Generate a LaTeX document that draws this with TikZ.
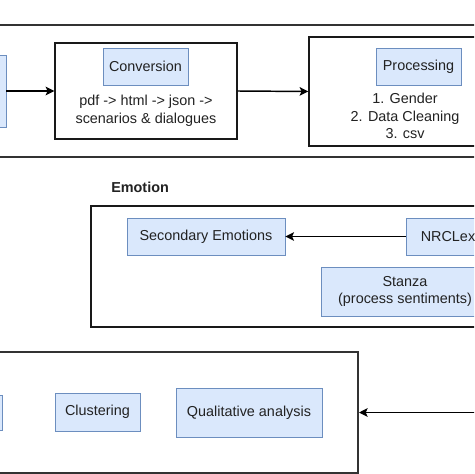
\documentclass[tikz,border=0pt]{standalone}
\usepackage{fontspec}
\setmainfont{Liberation Sans}
\usetikzlibrary{arrows.meta}
\definecolor{bfill}{HTML}{DAE8FC}
\definecolor{bline}{HTML}{6C8EBF}
\definecolor{dline}{HTML}{333333}
\definecolor{txt}{HTML}{222222}
\tikzset{
  px/.style={x=0.75pt,y=-0.75pt},
  outerbox/.style={draw=dline,line width=1.5pt,rectangle,inner sep=0pt},
  groupbox/.style={draw=black!90,line width=1.1pt,rectangle,inner sep=0pt},
  bluebox/.style={draw=bline,fill=bfill,line width=0.6pt,rectangle,inner sep=0pt,text=txt,font=\fontsize{10.8}{13.2}\selectfont},
  plaintext/.style={text=txt,font=\fontsize{10.8}{13.2}\selectfont,align=center,inner sep=0pt},
  conn/.style={draw=black,line width=1.1pt,-{Stealth[length=6.5pt,width=6.5pt,inset=1.5pt]}},
}
\begin{document}
\begin{tikzpicture}[px]
\useasboundingbox (0,0) rectangle (474,474);
\clip (0,0) rectangle (474,474);
\fill[white] (0,0) rectangle (474,474);
% top band
\node[outerbox,minimum width=375pt,minimum height=99pt] (topband) at (240,91) {};
\node[bluebox,minimum width=49.5pt,minimum height=54pt] (leftA) at (-27,91) {};
\node[groupbox,minimum width=136.5pt,minimum height=72pt] (conv) at (146,91) {};
\node[bluebox,minimum width=63.75pt,minimum height=27.75pt] (convlab) at (145.5,66.5) {Conversion};
\node[plaintext] (convtxt) at (146,111) {pdf -> html -> json ->\\scenarios \& dialogues};
\node[groupbox,minimum width=144pt,minimum height=81.75pt] (proc) at (405,91.5) {};
\node[bluebox,minimum width=63.75pt,minimum height=27.75pt] (proclab) at (418.5,66.5) {Processing};
\node[plaintext] (proctxt) at (405,116) {1. Gender\\2. Data Cleaning\\3. csv};
\draw[conn] (leftA.east) -- (conv.west);
\draw[conn] (conv.east) -- (proc.west);
% emotion
\node[plaintext,anchor=west,font=\fontsize{10.8}{13.2}\selectfont\bfseries] (emotitle) at (111,187) {Emotion};
\node[groupbox,minimum width=321.75pt,minimum height=90.75pt] (emobox) at (305.5,266.5) {};
\node[bluebox,minimum width=118.5pt,minimum height=27.75pt] (secondary) at (206,236.5) {Secondary Emotions};
\node[bluebox,minimum width=63pt,minimum height=27.75pt] (nrclex) at (448,236.5) {NRCLex};
\node[bluebox,minimum width=126pt,minimum height=36.75pt,align=center] (stanza) at (405,291.5) {Stanza\\(process sentiments)};
\draw[conn] (nrclex.west) -- (secondary.east);
% bottom band
\node[outerbox,minimum width=283.5pt,minimum height=90.75pt] (botband) at (169,412.5) {};
\node[bluebox,minimum width=46.5pt,minimum height=26.25pt] (leftB) at (-29,412.5) {};
\node[bluebox,minimum width=63.75pt,minimum height=28.5pt] (clust) at (97.5,412) {Clustering};
\node[bluebox,minimum width=109.5pt,minimum height=36.75pt] (qual) at (249,412.5) {Qualitative analysis};
\coordinate (inB) at (490,412.5);
\draw[conn] (inB) -- (botband.east);
\end{tikzpicture}
\end{document}
